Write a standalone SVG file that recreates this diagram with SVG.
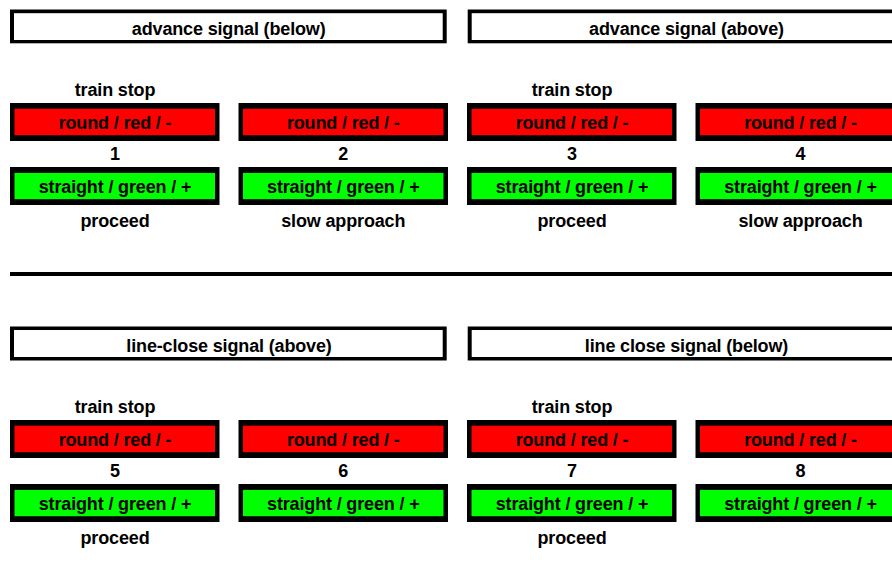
<svg xmlns="http://www.w3.org/2000/svg" width="892" height="583" viewBox="0 0 892 583">
  <style>
    .t { font-family: "Liberation Sans", Arial, Helvetica, sans-serif; font-weight: bold; font-size: 18px; letter-spacing: -0.15px; fill: #000; text-anchor: middle; }
    .blk { fill: #000; }
    .wht { fill: #fff; }
    .red { fill: #ff0000; }
    .grn { fill: #00ff00; }
    .sep { stroke: #000; stroke-width: 4; fill: none; }
  </style>

  <!-- Top section -->
  <g id="header-advance-below">
    <rect class="blk" x="10" y="9.5" width="436.7" height="33.8"/>
    <rect class="wht" x="14" y="13.2" width="428.7" height="26.8"/>
    <text class="t" x="228.7" y="35">advance signal (below)</text>
  </g>
  <g id="header-advance-above">
    <rect class="blk" x="467.7" y="9.5" width="440" height="33.8"/>
    <rect class="wht" x="471.7" y="13.2" width="432" height="26.8"/>
    <text class="t" x="686.5" y="35">advance signal (above)</text>
  </g>

  <g id="signal-1">
    <text class="t" x="115" y="96">train stop</text>
    <rect class="blk" x="10" y="103" width="209.5" height="38"/>
    <rect class="red" x="14.5" y="108.7" width="200.5" height="26.5"/>
    <text class="t" x="115" y="128.5">round / red / -</text>
    <text class="t" x="115" y="160">1</text>
    <rect class="blk" x="10" y="167" width="209.5" height="38"/>
    <rect class="grn" x="14.5" y="172.9" width="200.5" height="26.3"/>
    <text class="t" x="115" y="192.7">straight / green / +</text>
    <text class="t" x="115" y="226.7">proceed</text>
  </g>
  <g id="signal-2">
    <rect class="blk" x="238.5" y="103" width="209.5" height="38"/>
    <rect class="red" x="243" y="108.7" width="200.5" height="26.5"/>
    <text class="t" x="343.3" y="128.5">round / red / -</text>
    <text class="t" x="343.3" y="160">2</text>
    <rect class="blk" x="238.5" y="167" width="209.5" height="38"/>
    <rect class="grn" x="243" y="172.9" width="200.5" height="26.3"/>
    <text class="t" x="343.3" y="192.7">straight / green / +</text>
    <text class="t" x="343.3" y="226.7">slow approach</text>
  </g>
  <g id="signal-3">
    <text class="t" x="572" y="96">train stop</text>
    <rect class="blk" x="467" y="103" width="209.5" height="38"/>
    <rect class="red" x="471.5" y="108.7" width="200.5" height="26.5"/>
    <text class="t" x="572" y="128.5">round / red / -</text>
    <text class="t" x="572" y="160">3</text>
    <rect class="blk" x="467" y="167" width="209.5" height="38"/>
    <rect class="grn" x="471.5" y="172.9" width="200.5" height="26.3"/>
    <text class="t" x="572" y="192.7">straight / green / +</text>
    <text class="t" x="572" y="226.7">proceed</text>
  </g>
  <g id="signal-4">
    <rect class="blk" x="695.5" y="103" width="209.5" height="38"/>
    <rect class="red" x="700" y="108.7" width="200.5" height="26.5"/>
    <text class="t" x="800.5" y="128.5">round / red / -</text>
    <text class="t" x="800.5" y="160">4</text>
    <rect class="blk" x="695.5" y="167" width="209.5" height="38"/>
    <rect class="grn" x="700" y="172.9" width="200.5" height="26.3"/>
    <text class="t" x="800.5" y="192.7">straight / green / +</text>
    <text class="t" x="800.5" y="226.7">slow approach</text>
  </g>

  <g id="connectors">
    <line class="sep" x1="10" y1="274" x2="892" y2="274"/>
  </g>

  <!-- Bottom section -->
  <g id="header-lineclose-above">
    <rect class="blk" x="10" y="326.5" width="436.7" height="34"/>
    <rect class="wht" x="14" y="330" width="428.7" height="27"/>
    <text class="t" x="229" y="352">line-close signal (above)</text>
  </g>
  <g id="header-lineclose-below">
    <rect class="blk" x="467.7" y="326.5" width="440" height="34"/>
    <rect class="wht" x="471.7" y="330" width="432" height="27"/>
    <text class="t" x="686.5" y="352">line close signal (below)</text>
  </g>

  <g id="signal-5">
    <text class="t" x="115" y="413">train stop</text>
    <rect class="blk" x="10" y="420" width="209.5" height="38"/>
    <rect class="red" x="14.5" y="425.7" width="200.5" height="26.5"/>
    <text class="t" x="115" y="445.5">round / red / -</text>
    <text class="t" x="115" y="477">5</text>
    <rect class="blk" x="10" y="484" width="209.5" height="38"/>
    <rect class="grn" x="14.5" y="489.9" width="200.5" height="26.3"/>
    <text class="t" x="115" y="509.7">straight / green / +</text>
    <text class="t" x="115" y="543.7">proceed</text>
  </g>
  <g id="signal-6">
    <rect class="blk" x="238.5" y="420" width="209.5" height="38"/>
    <rect class="red" x="243" y="425.7" width="200.5" height="26.5"/>
    <text class="t" x="343.3" y="445.5">round / red / -</text>
    <text class="t" x="343.3" y="477">6</text>
    <rect class="blk" x="238.5" y="484" width="209.5" height="38"/>
    <rect class="grn" x="243" y="489.9" width="200.5" height="26.3"/>
    <text class="t" x="343.3" y="509.7">straight / green / +</text>
  </g>
  <g id="signal-7">
    <text class="t" x="572" y="413">train stop</text>
    <rect class="blk" x="467" y="420" width="209.5" height="38"/>
    <rect class="red" x="471.5" y="425.7" width="200.5" height="26.5"/>
    <text class="t" x="572" y="445.5">round / red / -</text>
    <text class="t" x="572" y="477">7</text>
    <rect class="blk" x="467" y="484" width="209.5" height="38"/>
    <rect class="grn" x="471.5" y="489.9" width="200.5" height="26.3"/>
    <text class="t" x="572" y="509.7">straight / green / +</text>
    <text class="t" x="572" y="543.7">proceed</text>
  </g>
  <g id="signal-8">
    <rect class="blk" x="695.5" y="420" width="209.5" height="38"/>
    <rect class="red" x="700" y="425.7" width="200.5" height="26.5"/>
    <text class="t" x="800.5" y="445.5">round / red / -</text>
    <text class="t" x="800.5" y="477">8</text>
    <rect class="blk" x="695.5" y="484" width="209.5" height="38"/>
    <rect class="grn" x="700" y="489.9" width="200.5" height="26.3"/>
    <text class="t" x="800.5" y="509.7">straight / green / +</text>
  </g>
</svg>
